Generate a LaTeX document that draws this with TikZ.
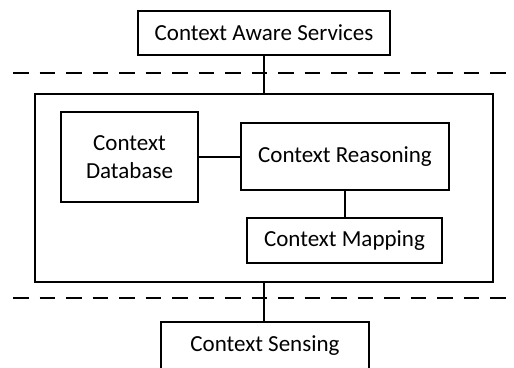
\documentclass[tikz,border=0pt]{standalone}
\usepackage{fontspec}
\setmainfont{Carlito}
\begin{document}
\begin{tikzpicture}[x=1pt,y=-1pt,
  box/.style={draw, line width=1.8pt, inner sep=0pt, align=center,
    font=\fontsize{23}{28}\selectfont},
  link/.style={line width=1.8pt},
  sep/.style={line width=1.8pt, dash pattern=on 15.5pt off 11pt}]
\useasboundingbox (0,0) rectangle (514,367);
\node[box, minimum width=252pt, minimum height=44pt] (services) at (264,33) {Context Aware Services};
\node[box, minimum width=458pt, minimum height=188pt] (core) at (264,188) {};
\node[box, minimum width=137pt, minimum height=90pt] (db) at (129.5,157) {Context\\Database};
\node[box, minimum width=208pt, minimum height=67pt] (reason) at (345,156.5) {Context Reasoning};
\node[box, minimum width=195pt, minimum height=45pt] (map) at (344.5,240.5) {Context Mapping};
\node[box, minimum width=208pt, minimum height=48pt] (sense) at (265,346) {Context Sensing};
\coordinate (s1l) at (13,73);
\coordinate (s1r) at (510,73);
\coordinate (s2l) at (13,298);
\coordinate (s2r) at (510,298);
\draw[sep] (s1l) -- (s1r);
\draw[sep] (s2l) -- (s2r);
\draw[link] (services.south) -- (services.south |- core.north);
\draw[link] (core.south) -- (core.south |- sense.north);
\draw[link] (db.east) -- (db.east -| reason.west);
\draw[link] (reason.south) -- (reason.south |- map.north);
\end{tikzpicture}
\end{document}
